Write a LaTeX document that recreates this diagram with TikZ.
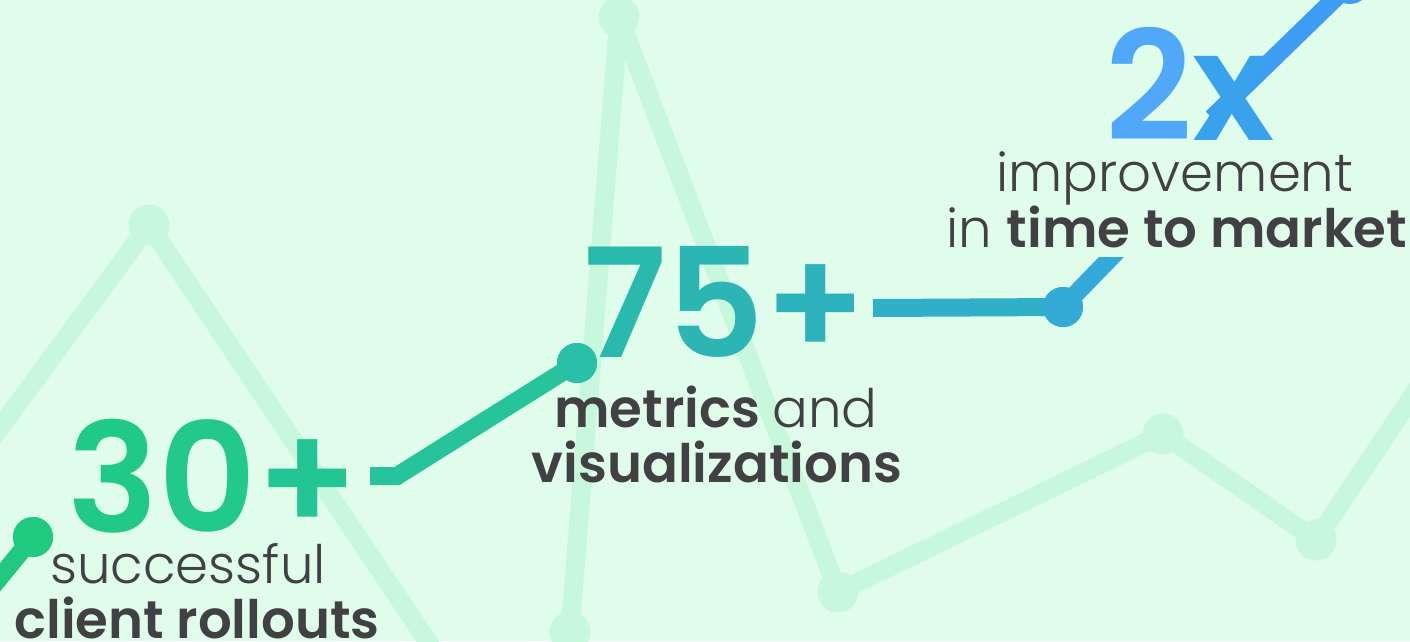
\documentclass[tikz,border=0pt]{standalone}
\usepackage{fontspec}
\setmainfont{Poppins}
\newfontfamily\lightfont{Poppins Light}
\newfontfamily\semifont{Poppins SemiBold}

\definecolor{bgmint}{HTML}{DFFDEA}
\definecolor{faintgreen}{HTML}{C8F8DC}
\definecolor{textgray}{HTML}{414042}
% colours along the trend line, green to blue
\definecolor{segA}{HTML}{20C97F}
\definecolor{segB}{HTML}{27C39B}
\definecolor{segC}{HTML}{30AFC8}
\definecolor{segD}{HTML}{35A9DB}
\definecolor{segE}{HTML}{3E9CF3}
\definecolor{dotA}{HTML}{20CA80}
\definecolor{dotB}{HTML}{2ABFA8}
\definecolor{dotC}{HTML}{33ABD6}
\definecolor{dotD}{HTML}{3F9BF5}
% colours of the digits
\definecolor{cthree}{HTML}{20CA84}
\definecolor{czero}{HTML}{22C98A}
\definecolor{cplusA}{HTML}{24C594}
\definecolor{cseven}{HTML}{2ABAAD}
\definecolor{cfive}{HTML}{2BB6B4}
\definecolor{cplusB}{HTML}{2DB2BD}
\definecolor{ctwo}{HTML}{51A8F9}
\definecolor{cx}{HTML}{3AA2EC}

\begin{document}
\begin{tikzpicture}[x=1pt,y=-1pt,
  faint/.style={line width=19pt, faintgreen},
  fdot/.style={circle, fill=faintgreen, minimum size=41pt, inner sep=0pt},
  trend/.style={line width=18pt},
  tdot/.style={circle, minimum size=40pt, inner sep=0pt},
  big/.style={inner sep=0pt, anchor=base, font=\semifont\fontsize{152}{152}\selectfont},
  caption/.style={inner sep=0pt, anchor=base, text=textgray, font=\fontsize{53}{55}\selectfont}]

\useasboundingbox (0,0) rectangle (1410,641);
\fill[bgmint] (0,0) rectangle (1410,641);
\clip (0,0) rectangle (1410,641);

% faint background chart
\node[fdot] (fa) at (149,225) {};
\node[fdot] (fb) at (619,17) {};
\node[fdot] (fc) at (570,632) {};
\node[fdot] (fd) at (838,592) {};
\node[fdot] (fe) at (1163,434) {};
\node[fdot] (ff) at (1316,540) {};
\coordinate (fa0) at (-20,455);
\coordinate (fa1) at (440,660);
\coordinate (ff1) at (1440,355);
\draw[faint] (fa0) -- (fa.center) -- (fa1);
\draw[faint] (fc.center) -- (fb.center) -- (fd.center) -- (fe.center) -- (ff.center) -- (ff1);

% trend line
\coordinate (p0) at (-12,592);
\coordinate (dash) at (370,476);
\coordinate (bend) at (397,476);
\coordinate (flat) at (873,308);
\coordinate (cut) at (1123,245);
\coordinate (xstroke) at (1212,118);
\node[tdot, fill=dotA] (p1) at (33,537) {};
\node[tdot, fill=dotB] (p2) at (577,363) {};
\node[tdot, fill=dotC] (p3) at (1063,307) {};
\node[tdot, fill=dotD] (p4) at (1350,-16) {};

\draw[trend, segA] (p0) -- (p1.center);
\draw[trend, segB] (dash) -- (bend) -- (p2.center);
\draw[trend, segC] (flat) -- (p3.center);
\begin{scope}
\clip (1000,257) rectangle (1200,330);
\draw[trend, segD] (p3.center) -- (cut);
\end{scope}
\draw[trend, segE] (xstroke) -- (p4.center);

\node[tdot, fill=dotA] at (p1) {};
\node[tdot, fill=dotB] at (p2) {};
\node[tdot, fill=dotC] at (p3) {};

% figures and captions
\node[big] (n30) at (213,532) {\textcolor{cthree}{3}\textcolor{czero}{0}\textcolor{cplusA}{+}};
\node[caption] (succ) at (188,583) {\lightfont successful};
\node[caption] (client) at (197,638) {\semifont client rollouts};

\node[big] (n75) at (725,357) {\textcolor{cseven}{7}\textcolor{cfive}{5}\textcolor{cplusB}{+}};
\node[caption] (metrics) at (716,427) {\semifont metrics \lightfont and};
\node[caption] (visual) at (717,482) {\semifont visualizations};

\node[big] (n2x) at (1190,140) {\textcolor{ctwo}{2}\textcolor{cx}{x}};
\node[caption] (improve) at (1175,191) {\lightfont improvement};
\node[caption] (market) at (1177,247) {\lightfont in \semifont time to market};

\end{tikzpicture}
\end{document}
